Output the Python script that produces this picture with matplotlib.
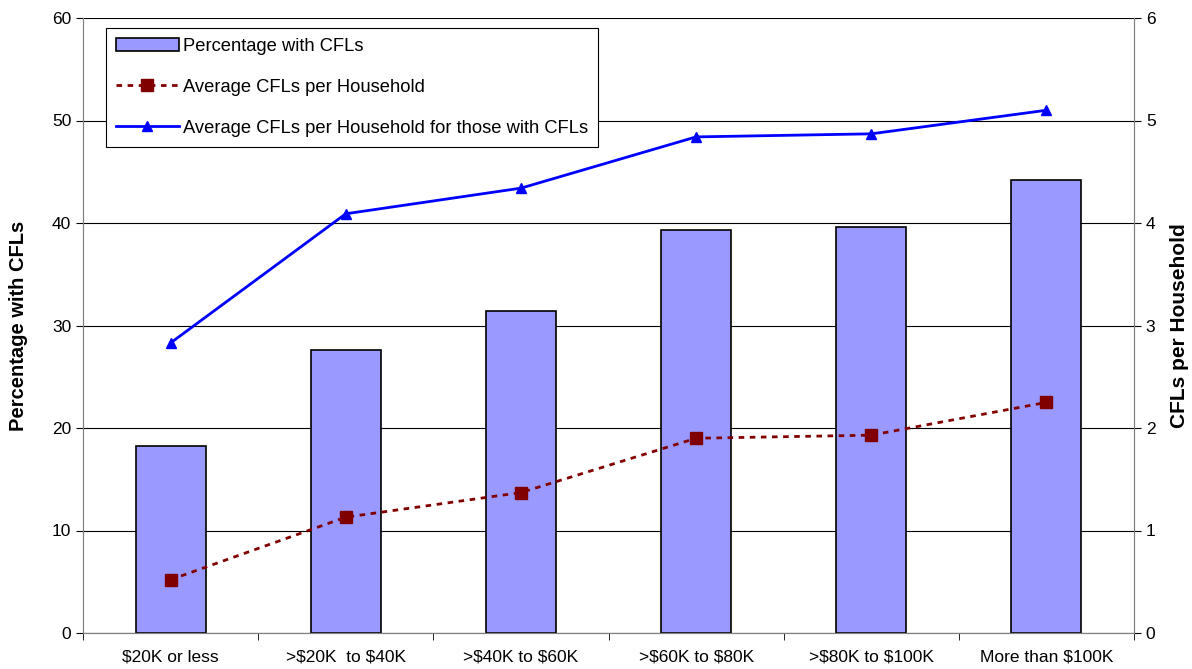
import matplotlib.pyplot as plt
import numpy as np

plt.rcParams['font.family'] = ['Liberation Sans', 'DejaVu Sans']
plt.rcParams['text.parse_math'] = False

categories = ['$20K or less', '>$20K  to $40K', '>$40K to $60K',
              '>$60K to $80K', '>$80K to $100K', 'More than $100K']
pct_with_cfl = [18.2, 27.6, 31.4, 39.3, 39.6, 44.2]
avg_cfl = [0.52, 1.13, 1.37, 1.90, 1.93, 2.25]
avg_cfl_users = [2.83, 4.09, 4.34, 4.84, 4.87, 5.10]

x = np.arange(len(categories))

fig = plt.figure(figsize=(11.92, 6.69), dpi=100)
ax = fig.add_axes([83 / 1192, 36 / 669, 1051 / 1192, 615 / 669])
ax2 = ax.twinx()

bars = ax.bar(x, pct_with_cfl, width=0.4, color='#9999ff', edgecolor='black',
              linewidth=1.2, label='Percentage with CFLs', zorder=2)
ax.set_xlim(-0.5, len(categories) - 0.5)
ax.set_ylim(0, 60)
ax.set_yticks(range(0, 61, 10))
ax.yaxis.grid(True, color='black', linewidth=0.8, zorder=0)
ax.set_axisbelow(True)
ax.set_ylabel('Percentage with CFLs', fontsize=14.5, fontweight='bold')
ax.yaxis.set_label_coords(-0.052, 0.5)

ax.set_xticks(x)
ax.set_xticklabels(categories, fontsize=12.5)
ax.set_xticks(np.arange(-0.5, len(categories)), minor=True)
ax.tick_params(axis='x', which='major', length=0, pad=12)
ax.tick_params(axis='x', which='minor', length=5, direction='out')
ax.tick_params(axis='y', labelsize=12.5, direction='out', length=5)

l1, = ax2.plot(x, avg_cfl, color='#800000', linestyle=(0, (2, 2)), linewidth=2,
               marker='s', markersize=8, label='Average CFLs per Household')
l2, = ax2.plot(x, avg_cfl_users, color='#0000ff', linewidth=2,
               marker='^', markersize=7, label='Average CFLs per Household for those with CFLs')
ax2.set_ylim(0, 6)
ax2.set_yticks(range(0, 7))
ax2.tick_params(axis='y', labelsize=12.5, direction='out', length=5)
ax2.set_ylabel('CFLs per Household', fontsize=15, fontweight='bold')
ax2.yaxis.set_label_coords(1.034, 0.5)

for a in (ax, ax2):
    a.spines['top'].set_visible(False)
    for s in ('left', 'right', 'bottom'):
        a.spines[s].set_color('#808080')

leg = ax2.legend([bars, l1, l2],
                 ['Percentage with CFLs', 'Average CFLs per Household',
                  'Average CFLs per Household for those with CFLs'],
                 loc='upper left', bbox_to_anchor=(0.022, 0.984), fontsize=13.2,
                 frameon=True, fancybox=False, edgecolor='black', framealpha=1,
                 labelspacing=1.3, handlelength=3.4, handletextpad=0.25,
                 borderpad=0.55, borderaxespad=0)
leg.get_frame().set_linewidth(0.8)

fig.savefig('out.png', dpi=100)
